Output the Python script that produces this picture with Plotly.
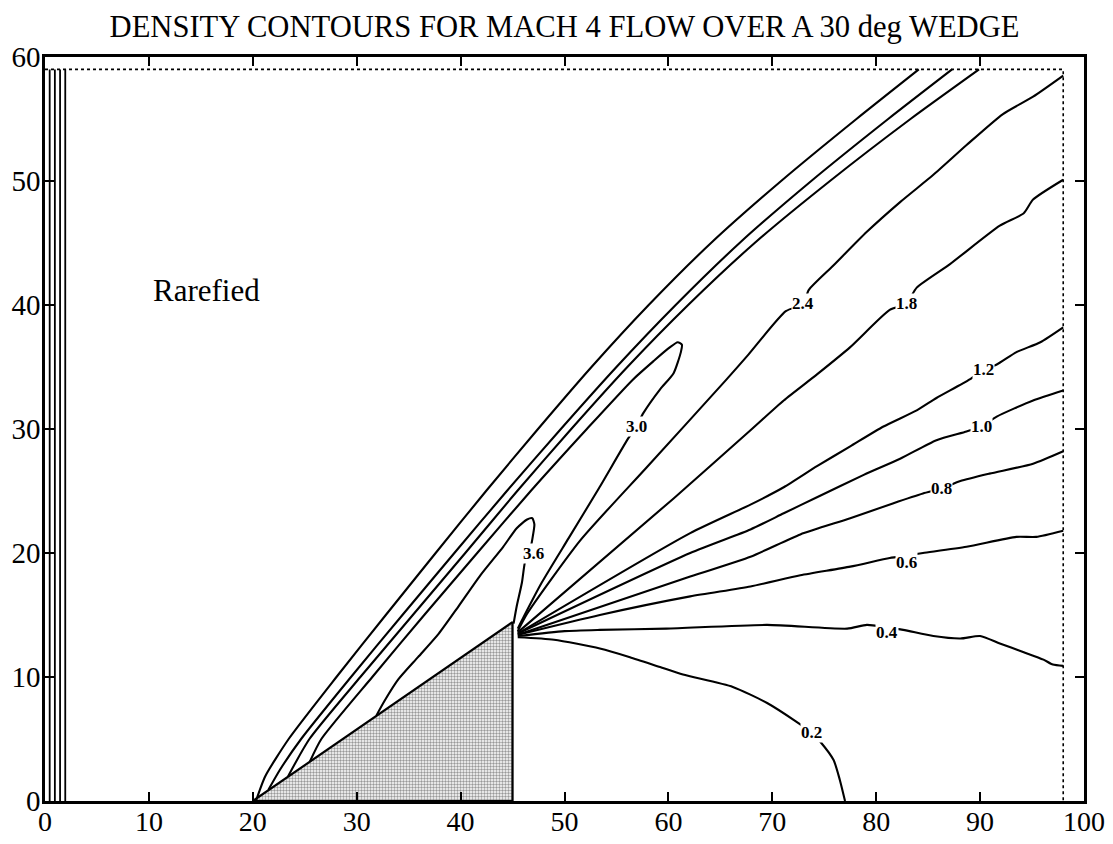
import plotly.graph_objects as go

# ---------------- data ----------------
title_text = "DENSITY CONTOURS FOR MACH 4 FLOW OVER A 30 deg WEDGE"
x_ticks = [0, 10, 20, 30, 40, 50, 60, 70, 80, 90, 100]
y_ticks = [0, 10, 20, 30, 40, 50, 60]

# wedge body (30 deg, leading edge at x=20, shoulder at x=45)
wedge_x = [20, 45, 45, 20]
wedge_y = [0, 14.43, 0, 0]

# computational domain boundary (dotted)
bound_x = [0, 98, 98]
bound_y = [59, 59, 0]

# inflow-boundary contour lines near x=0
inflow_x = [0.45, 0.95, 1.45, 1.95]
inflow_y = [0, 59]

# shock contours
shock_a_x = [20.3, 21.2, 23.45, 28.05, 32.8, 37.6, 42.45, 47.45, 52.6, 58.1, 64.1, 70.85, 78.1, 84.1]
shock_a_y = [0.0, 2.0, 5.0, 10.0, 15.0, 20.0, 25.0, 30.0, 35.0, 40.0, 45.0, 50.0, 55.0, 59.0]

shock_b_x = [21.5, 22.6, 24.65, 29.45, 34.4, 39.4, 44.45, 49.65, 55.0, 60.7, 66.85, 73.75, 81.15, 87.3]
shock_b_y = [0.9, 2.5, 5.0, 10.0, 15.0, 20.0, 25.0, 30.0, 35.0, 40.0, 45.0, 50.0, 55.0, 59.0]

shock_c_x = [23.4, 25.45, 30.35, 35.4, 40.45, 45.45, 50.65, 56.05, 61.9, 68.3, 75.55, 83.3, 89.9]
shock_c_y = [2.0, 5.0, 10.0, 15.0, 20.0, 25.0, 30.0, 35.0, 40.0, 45.0, 50.0, 55.0, 59.0]

# 3.0 contour: loop from wedge surface up along the shock and back to the shoulder
c30_x = [25.5, 26.6, 31.5, 36.5, 41.6, 46.75, 52.15, 56.6, 58.6, 60.0, 60.9, 61.3, 61.2, 60.5,
         59.2, 57.6, 56.9, 56.1, 53.3, 50.4, 47.8, 46.1, 45.5]
c30_y = [3.2, 5.0, 10.0, 15.0, 20.0, 25.0, 30.0, 34.0, 35.5, 36.5, 37.0, 36.8, 36.2, 34.5,
         33.2, 31.3, 30.2, 29.2, 25.2, 21.2, 17.6, 14.9, 13.9]

# 3.6 contour: small loop ending at the shoulder
c36_x = [31.9, 32.7, 34.0, 35.9, 37.9, 39.8, 41.9, 44.1, 45.4, 46.4, 46.9, 47.1,
         47.0, 46.7, 46.2, 45.9, 45.4, 45.1]
c36_y = [6.9, 8.1, 9.8, 11.6, 13.5, 15.7, 18.2, 20.5, 22.0, 22.7, 22.8, 22.3,
         21.6, 20.3, 19.3, 17.6, 15.7, 14.3]

# expansion-fan contours from the shoulder
c24_x = [45.5, 46.4, 51.5, 57.9, 65.6, 67.7, 71.3, 73.0, 73.5, 75.9, 79.1, 82.3, 85.5, 88.7,
         92.2, 95.1, 98.0]
c24_y = [13.7, 15.1, 21.0, 26.9, 34.0, 36.0, 39.5, 40.1, 41.2, 43.2, 45.9, 48.3, 50.5, 52.9,
         55.4, 56.8, 58.5]

c18_x = [45.5, 60.5, 67.9, 71.1, 74.3, 77.5, 81.3, 82.9, 83.9, 87.1, 91.9, 94.2, 95.1, 98.0]
c18_y = [13.6, 24.4, 29.9, 32.3, 34.4, 36.6, 39.6, 40.1, 41.4, 43.3, 46.4, 47.4, 48.5, 50.1]

c12_x = [45.5, 62.1, 67.9, 71.1, 74.3, 77.5, 80.7, 83.9, 85.8, 89.0, 90.3, 91.6, 93.5, 95.8, 98.0]
c12_y = [13.5, 21.6, 23.9, 25.3, 27.0, 28.6, 30.2, 31.5, 32.5, 34.0, 34.8, 35.2, 36.2, 37.0, 38.2]

c10_x = [45.5, 62.1, 67.9, 71.1, 74.3, 78.8, 82.3, 85.8, 88.7, 90.1, 91.6, 95.1, 98.0]
c10_y = [13.5, 20.0, 21.9, 23.2, 24.5, 26.3, 27.6, 29.1, 29.8, 30.2, 31.0, 32.3, 33.1]

c08_x = [45.5, 62.1, 67.9, 72.7, 77.5, 81.6, 84.5, 86.3, 88.1, 90.9, 95.1, 98.0]
c08_y = [13.4, 18.1, 19.7, 21.5, 22.8, 24.0, 24.8, 25.2, 25.8, 26.4, 27.2, 28.2]

c06_x = [45.5, 53.4, 62.1, 67.9, 72.7, 77.5, 81.3, 82.9, 84.5, 88.7, 93.5, 95.4, 98.0]
c06_y = [13.4, 15.0, 16.5, 17.3, 18.2, 18.9, 19.6, 19.8, 20.0, 20.5, 21.3, 21.3, 21.8]

c04_x = [45.5, 50.0, 53.4, 59.8, 69.5, 77.2, 79.1, 81.0, 82.6, 85.5, 88.1, 90.0, 91.9, 94.2,
         96.1, 97.0, 98.0]
c04_y = [13.3, 13.7, 13.8, 13.9, 14.2, 13.9, 14.2, 14.0, 13.8, 13.3, 13.1, 13.3, 12.7, 12.0,
         11.4, 11.0, 10.9]

c02_x = [45.5, 49.0, 53.4, 56.3, 59.2, 61.4, 66.2, 69.5, 72.3, 73.8, 74.6, 75.9, 76.5, 77.0]
c02_y = [13.2, 13.0, 12.3, 11.6, 10.8, 10.2, 9.2, 7.9, 6.4, 5.5, 4.8, 3.3, 1.7, 0.0]

# in-line contour labels
label_text = ["3.6", "3.0", "2.4", "1.8", "1.2", "1.0", "0.8", "0.6", "0.4", "0.2"]
label_x = [47.0, 56.9, 73.0, 82.9, 90.3, 90.1, 86.3, 82.9, 81.0, 73.8]
label_y = [20.0, 30.2, 40.1, 40.1, 34.8, 30.2, 25.2, 19.2, 13.6, 5.5]

region_text = "Rarefied"
region_x = 15.5
region_y = 41.2

# ---------------- figure ----------------
SERIF = "Liberation Serif, Times New Roman, serif"
fig = go.Figure()

# wedge
fig.add_trace(go.Scatter(
    x=wedge_x, y=wedge_y, mode="lines", fill="toself",
    fillcolor="rgba(0,0,0,0)",
    fillpattern=dict(shape=".", size=3, solidity=0.5, fgcolor="#333333", bgcolor="#ffffff"),
    line=dict(color="black", width=2.2), hoverinfo="skip"))

# dotted domain boundary
fig.add_trace(go.Scatter(x=bound_x, y=bound_y, mode="lines",
                         line=dict(color="black", width=1.6, dash="dot"), hoverinfo="skip"))

# inflow lines
for xv in inflow_x:
    fig.add_trace(go.Scatter(x=[xv, xv], y=inflow_y, mode="lines",
                             line=dict(color="black", width=1.8), hoverinfo="skip"))

contours = [
    (shock_a_x, shock_a_y), (shock_b_x, shock_b_y), (shock_c_x, shock_c_y),
    (c30_x, c30_y), (c36_x, c36_y), (c24_x, c24_y), (c18_x, c18_y),
    (c12_x, c12_y), (c10_x, c10_y), (c08_x, c08_y), (c06_x, c06_y),
    (c04_x, c04_y), (c02_x, c02_y),
]
for cx, cy in contours:
    fig.add_trace(go.Scatter(x=cx, y=cy, mode="lines",
                             line=dict(color="black", width=2.1, shape="spline", smoothing=0.6),
                             hoverinfo="skip"))

annotations = []
for t, lx, ly in zip(label_text, label_x, label_y):
    annotations.append(dict(x=lx, y=ly, xref="x", yref="y", text="<b>" + t + "</b>",
                            showarrow=False,
                            font=dict(family=SERIF, size=17, color="black"),
                            bgcolor="white", borderpad=0))
annotations.append(dict(x=region_x, y=region_y, xref="x", yref="y", text=region_text,
                        showarrow=False, font=dict(family=SERIF, size=31, color="black")))

axis_common = dict(showline=True, linecolor="black", linewidth=2.5, mirror="ticks",
                   ticks="inside", ticklen=9, tickwidth=1.5, tickcolor="black",
                   showgrid=False, zeroline=False, automargin=False,
                   ticklabeloverflow="allow")

# the page body adds an 8px margin around the figure; size/margins compensate for it
fig.update_layout(
    width=1097, height=828, autosize=False,
    margin=dict(l=37, r=21, t=49, b=35),
    paper_bgcolor="white", plot_bgcolor="white",
    showlegend=False,
    title=dict(text=title_text, x=0.5, xref="paper", y=0.978, yref="container",
               xanchor="center", yanchor="middle",
               font=dict(family=SERIF, size=30.6, color="black")),
    xaxis=dict(range=[0, 100], tickvals=x_ticks, ticklabelstandoff=-6,
               tickfont=dict(family=SERIF, size=28, color="black"), **axis_common),
    yaxis=dict(range=[0, 60], tickvals=y_ticks, ticklabelstandoff=-4,
               tickfont=dict(family=SERIF, size=29, color="black"), **axis_common),
    annotations=annotations,
)

fig.write_html("out.html")
